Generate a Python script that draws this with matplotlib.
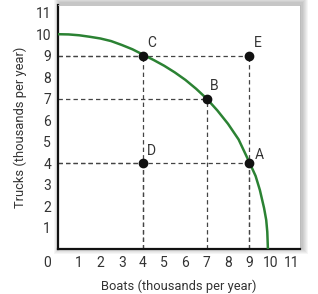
import matplotlib
matplotlib.use("Agg")
import matplotlib.pyplot as plt
from matplotlib.patches import Rectangle

plt.rcParams["font.family"] = ["Roboto", "DejaVu Sans"]

# frontier (boats, trucks)
ppf_boats = [0, 0.5, 1, 1.5, 2, 2.5, 3, 3.5, 4, 4.5, 5, 5.5, 6, 6.5, 7,
             7.5, 8, 8.5, 9, 9.3, 9.5, 9.7, 9.8, 9.85, 9.88]
ppf_trucks = [10, 9.99, 9.95, 9.88, 9.8, 9.68, 9.5, 9.3, 9.05, 8.8, 8.53, 8.22, 7.87, 7.46, 7.0,
              6.45, 5.83, 5.1, 4.05, 3.4, 2.75, 1.9, 1.35, 0.8, 0]

point_names = ["A", "B", "C", "D", "E"]
point_boats = [9, 7, 4, 4, 9]
point_trucks = [4, 7, 9, 4, 9]

ticks = [1, 2, 3, 4, 5, 6, 7, 8, 9, 10, 11]

W, H = 318, 294
fig = plt.figure(figsize=(W / 100, H / 100), dpi=100)
left, right, bottom, top = 58, 300, 249, 5
ax = fig.add_axes([left / W, 1 - bottom / H, (right - left) / W, (bottom - top) / H])

# soft drop shadow behind the frame
for i in range(1, 7):
    fig.patches.append(Rectangle(((left + 2 - i) / W, (H - bottom - i + 1) / H),
                                 (right - left + 2 * i) / W, (bottom - top + 2 * i + 1) / H,
                                 transform=fig.transFigure, facecolor="black",
                                 edgecolor="none", alpha=0.04, zorder=-1))

dash = dict(color="#444444", lw=0.9, ls=(0, (3.5, 2.5)), zorder=2)
# guide lines from each point to the axes
for b, t in zip(point_boats, point_trucks):
    ax.plot([0, b], [t, t], **dash)
    ax.plot([b, b], [0, t], **dash)

ax.plot(ppf_boats, ppf_trucks, color="#2b8233", lw=1.8, zorder=3,
        solid_joinstyle="round")
ax.plot(point_boats, point_trucks, "o", color="#111111", ms=6, zorder=4)

offsets = {"A": (4, 1), "B": (2, 4), "C": (3, 4), "D": (3, 4), "E": (3, 4)}
for n, b, t in zip(point_names, point_boats, point_trucks):
    ax.annotate(n, (b, t), xytext=offsets[n], textcoords="offset points",
                fontsize=10, color="#333333", ha="left", va="bottom")

ax.set_xlim(0, 11.39)
ax.set_ylim(0, 11.36)
ax.set_xticks(ticks)
ax.set_yticks(ticks)
ax.tick_params(length=0, labelsize=10, labelcolor="#333333", pad=5)
ax.annotate("0", (0, 0), xytext=(-8, -5), textcoords="offset points",
            ha="center", va="top", fontsize=10, color="#333333")

for s in ["left", "bottom"]:
    ax.spines[s].set_linewidth(1.6)
    ax.spines[s].set_color("#111111")
for s in ["top", "right"]:
    ax.spines[s].set_linewidth(0.6)
    ax.spines[s].set_color("#bbbbbb")

ax.set_xlabel("Boats (thousands per year)", fontsize=9.3, color="#333333", labelpad=7)
ax.set_ylabel("Trucks (thousands per year)", fontsize=9.3, color="#333333", labelpad=6)

fig.savefig("out.png", dpi=100)
